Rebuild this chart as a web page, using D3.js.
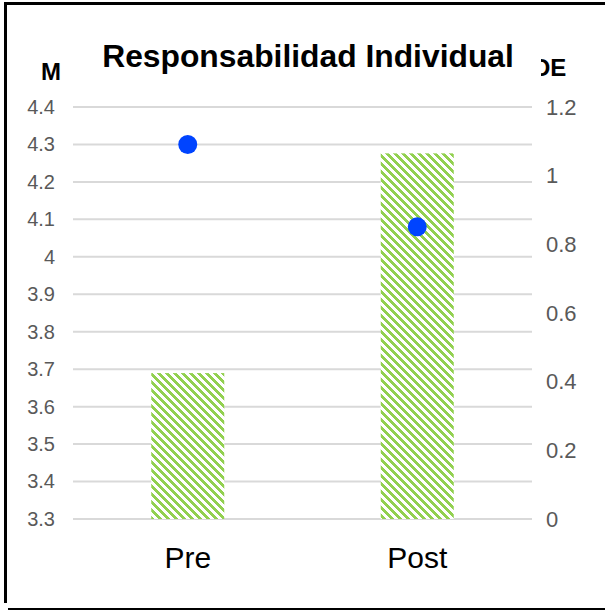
<!DOCTYPE html>
<html>
<head>
<meta charset="utf-8">
<script src="https://cdn.jsdelivr.net/npm/d3@7"></script>
<style>
  html, body { margin: 0; padding: 0; background: #fff; }
  svg { display: block; font-family: "Liberation Sans", Arial, sans-serif; }
</style>
</head>
<body>
<svg id="chart" width="605" height="611"></svg>
<script>
const categories = ["Pre", "Post"];
const meanValues = [4.30, 4.08];   // M (left axis, points)
const sdValues = [0.425, 1.065];   // DE (right axis, bars)
const leftTicks = [3.3, 3.4, 3.5, 3.6, 3.7, 3.8, 3.9, 4.0, 4.1, 4.2, 4.3, 4.4];
const rightTicks = [0, 0.2, 0.4, 0.6, 0.8, 1.0, 1.2];
const titleText = "Responsabilidad Individual";
const leftAxisTitle = "M";
const rightAxisTitle = "DE";

const svg = d3.select("#chart");
const plot = { left: 73, right: 532, top: 107, bottom: 519 };

const x = d3.scaleBand().domain(categories).range([plot.left, plot.right]).padding(0);
const yL = d3.scaleLinear().domain([3.3, 4.4]).range([plot.bottom, plot.top]);
const yR = d3.scaleLinear().domain([0, 1.2]).range([plot.bottom, plot.top]);

// hatch pattern (wide downward diagonal)
const defs = svg.append("defs");
const pat = defs.append("pattern").attr("id", "hatch")
  .attr("patternUnits", "userSpaceOnUse").attr("width", 8).attr("height", 8);
pat.append("rect").attr("width", 8).attr("height", 8).attr("fill", "#fff");
for (let r = 0; r < 8; r++) {
  for (let k = 0; k < 4; k++) {
    pat.append("rect").attr("x", (r + k) % 8).attr("y", r)
      .attr("width", 1).attr("height", 1).attr("fill", "#92d050")
      .attr("shape-rendering", "crispEdges");
  }
}

// gridlines
svg.append("g").selectAll("line").data(leftTicks).join("line")
  .attr("x1", plot.left).attr("x2", plot.right)
  .attr("y1", d => yL(d)).attr("y2", d => yL(d))
  .attr("stroke", "#d9d9d9").attr("stroke-width", 2);

// left axis
const axL = d3.axisLeft(yL).tickValues(leftTicks).tickSize(0).tickPadding(0)
  .tickFormat(d => d3.format("")(+d.toFixed(1)));
const gL = svg.append("g").attr("transform", `translate(55,0)`).call(axL);
gL.select(".domain").remove();
gL.selectAll("text").attr("fill", "#595959").attr("font-size", 20)
  .attr("font-family", "Liberation Sans, Arial, sans-serif");

// right axis
const axR = d3.axisRight(yR).tickValues(rightTicks).tickSize(0).tickPadding(0)
  .tickFormat(d => d3.format("")(+d.toFixed(1)));
const gR = svg.append("g").attr("transform", `translate(546,0)`).call(axR);
gR.select(".domain").remove();
gR.selectAll("text").attr("fill", "#595959").attr("font-size", 22)
  .attr("font-family", "Liberation Sans, Arial, sans-serif");

// bars
const barW = 73;
svg.append("g").selectAll("rect").data(categories).join("rect")
  .attr("x", d => x(d) + x.bandwidth() / 2 - barW / 2)
  .attr("width", barW)
  .attr("y", (d, i) => yR(sdValues[i]))
  .attr("height", (d, i) => yR(0) - yR(sdValues[i]))
  .attr("fill", "url(#hatch)");

// points
svg.append("g").selectAll("circle").data(categories).join("circle")
  .attr("cx", d => x(d) + x.bandwidth() / 2)
  .attr("cy", (d, i) => yL(meanValues[i]))
  .attr("r", 9.5)
  .attr("fill", "#0044ff");

// x labels
const axX = d3.axisBottom(x).tickSize(0).tickPadding(0);
const gX = svg.append("g").attr("transform", `translate(0,547)`).call(axX);
gX.select(".domain").remove();
gX.selectAll("text").attr("fill", "#000").attr("font-size", 30)
  .attr("font-family", "Liberation Sans, Arial, sans-serif").attr("dy", "0.71em");

// axis titles
svg.append("text").attr("x", 51).attr("y", 80).attr("text-anchor", "middle")
  .attr("font-size", 24).attr("font-weight", "bold").attr("fill", "#000").text(leftAxisTitle);
svg.append("text").attr("x", 533).attr("y", 76).attr("text-anchor", "start")
  .attr("font-size", 24).attr("font-weight", "bold").attr("fill", "#000").text(rightAxisTitle);

// title box (covers part of DE as in reference)
svg.append("rect").attr("x", 100).attr("y", 38).attr("width", 441).attr("height", 38).attr("fill", "#fff");
svg.append("text").attr("x", 308).attr("y", 67).attr("text-anchor", "middle")
  .attr("font-size", 31.8).attr("font-weight", "bold").attr("fill", "#000").text(titleText);

// border (left, top, bottom)
svg.append("rect").attr("x", 4).attr("y", 2).attr("width", 3).attr("height", 601).attr("fill", "#000");
svg.append("rect").attr("x", 4).attr("y", 2).attr("width", 601).attr("height", 3).attr("fill", "#000");
svg.append("rect").attr("x", 8).attr("y", 608).attr("width", 597).attr("height", 2).attr("fill", "#000");
</script>
</body>
</html>
